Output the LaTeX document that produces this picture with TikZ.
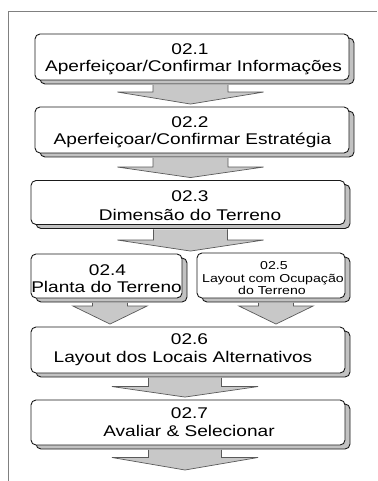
\documentclass[tikz,border=0pt]{standalone}
\usepackage{fontspec}
\usetikzlibrary{calc,shadows}
\newfontfamily\bxf{Liberation Sans}[FakeStretch=1.23]
\definecolor{shadowgray}{HTML}{C2C2C2}
\definecolor{arrowgray}{HTML}{C8C8C8}
\definecolor{arrowedge}{HTML}{5A5A5A}
\definecolor{framegray}{HTML}{808080}
\definecolor{boxedge}{HTML}{1A1A1A}
\tikzset{
  stepbox/.style={draw=boxedge, line width=0.9pt, fill=white, rounded corners=5pt,
    inner sep=0pt, minimum width=314pt, minimum height=46pt,
    general shadow={shadow xshift=5pt, shadow yshift=-4pt, fill=shadowgray, draw=boxedge, line width=0.9pt}},
  lbl/.style={inner sep=0pt, anchor=base, font=\bxf\fontsize{15.5}{18}\selectfont},
  slbl/.style={inner sep=0pt, anchor=base, font=\bxf\fontsize{11.5}{13}\selectfont},
  arrowfill/.style={fill=arrowgray},
  arrowline/.style={draw=arrowedge, line width=0.7pt, line join=miter},
  frameline/.style={draw=framegray, line width=1pt}
}
% #1 from node, #2 target point, #3 centre x, #4 stem half width, #5 wing half width, #6 head length
\newcommand\blockarrow[6]{%
  \fill[arrowfill] let \p1=(#1.south), \p2=(#2) in
    ({(#3-#4)*1pt},{\y1-4.5pt}) -- ({(#3-#4)*1pt},{\y2+2.5pt+#6pt}) -- ({(#3-#5)*1pt},{\y2+2.5pt+#6pt})
    -- ({#3*1pt},{\y2+2.5pt}) -- ({(#3+#5)*1pt},{\y2+2.5pt+#6pt}) -- ({(#3+#4)*1pt},{\y2+2.5pt+#6pt})
    -- ({(#3+#4)*1pt},{\y1-4.5pt}) -- cycle;
  \draw[arrowline] let \p1=(#1.south), \p2=(#2) in
    ({(#3-#4)*1pt},{\y1-4.5pt}) -- ({(#3-#4)*1pt},{\y2+2.5pt+#6pt}) -- ({(#3-#5)*1pt},{\y2+2.5pt+#6pt})
    -- ({#3*1pt},{\y2+2.5pt}) -- ({(#3+#5)*1pt},{\y2+2.5pt+#6pt}) -- ({(#3+#4)*1pt},{\y2+2.5pt+#6pt})
    -- ({(#3+#4)*1pt},{\y1-4.5pt});
}
\begin{document}
\begin{tikzpicture}[x=1pt,y=-1pt]
\useasboundingbox[fill=white] (0,0) rectangle (377,481);
% frame
\coordinate (fa) at (8,481);
\coordinate (fb) at (8,12);
\coordinate (fc) at (377,12);
\draw[frameline] (fa) -- (fb) -- (fc);

% boxes
\node[stepbox] (b1) at (192,57) {};
\node[stepbox] (b2) at (192,130) {};
\node[stepbox, minimum height=44pt] (b3) at (188,202.5) {};
\node[stepbox, minimum width=151pt, minimum height=44pt] (b4) at (106.5,276) {};
\node[stepbox, minimum width=148pt, minimum height=45pt] (b5) at (271,275.5) {};
\node[stepbox] (b6) at (188,350) {};
\node[stepbox, minimum height=45pt] (b7) at (188,422.5) {};
\coordinate (end7) at (185,472.5);

% texts
\node[lbl] (t1a) at (190,55) {02.1};
\node[lbl] (t1b) at (193.5,72) {Aperfeiçoar/Confirmar Informações};
\node[lbl] (t2a) at (190,128) {02.2};
\node[lbl] (t2b) at (192.5,144.5) {Aperfeiçoar/Confirmar Estratégia};
\node[lbl] (t3a) at (190,201.5) {02.3};
\node[lbl] (t3b) at (190,220) {Dimensão do Terreno};
\node[lbl] (t4a) at (107.5,275) {02.4};
\node[lbl] (t4b) at (106.5,292.5) {Planta do Terreno};
\node[slbl] (t5a) at (274,269) {02.5};
\node[slbl] (t5b) at (273,282) {Layout com Ocupação};
\node[slbl] (t5c) at (272,294) {do Terreno};
\node[lbl] (t6a) at (189.5,344) {02.6};
\node[lbl] (t6b) at (183,362.5) {Layout dos Locais Alternativos};
\node[lbl] (t7a) at (189.5,418) {02.7};
\node[lbl] (t7b) at (189,436) {Avaliar \& Selecionar};

% block arrows
\blockarrow{b1}{b2.north}{190.5}{37.5}{73}{12}
\blockarrow{b2}{b3.north}{190.5}{37.5}{73}{10.5}
\blockarrow{b3}{b4.north}{190.5}{37}{73}{11}
\blockarrow{b4}{b6.north}{110}{17.5}{37}{18}
\blockarrow{b5}{b6.north}{276}{17.5}{37}{18}
\blockarrow{b6}{b7.north}{185}{36.5}{73}{10.5}
\blockarrow{b7}{end7}{185}{36.5}{73}{12.5}
\end{tikzpicture}
\end{document}
